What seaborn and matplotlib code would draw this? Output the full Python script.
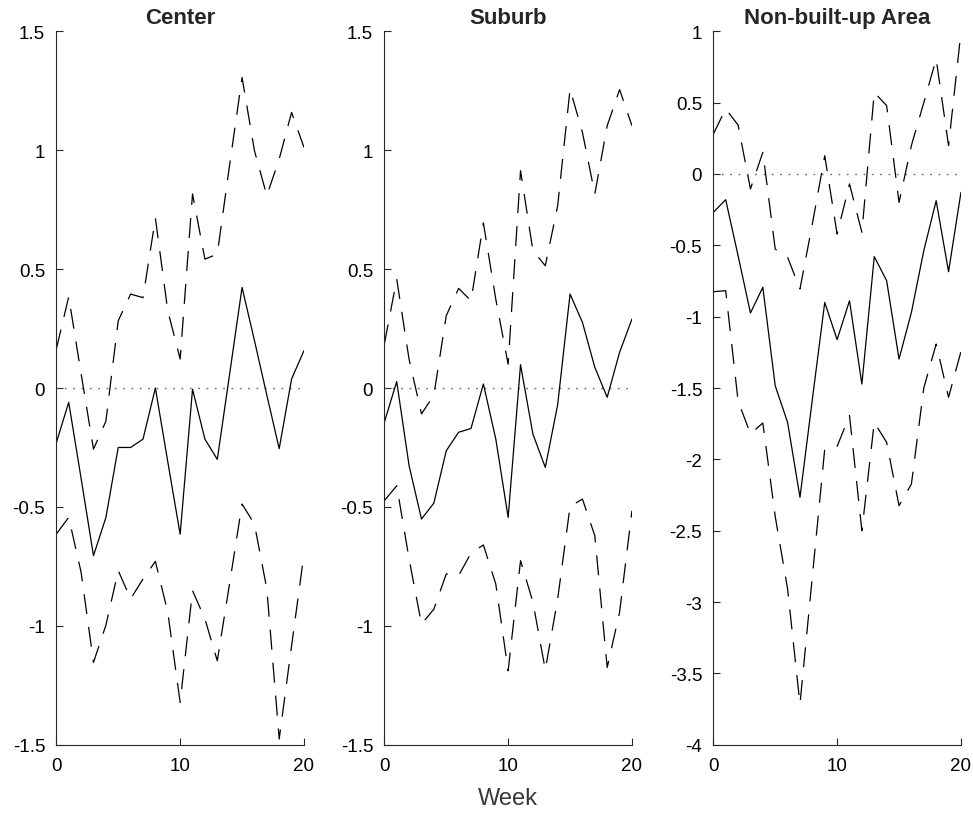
import matplotlib
matplotlib.use("Agg")
import matplotlib.pyplot as plt
import numpy as np
import pandas as pd
import seaborn as sns
from matplotlib.ticker import FormatStrFormatter, MultipleLocator

weeks = list(range(21))

center_est = [-0.23, -0.06, -0.38, -0.705, -0.545, -0.25, -0.25, -0.215, 0.0, -0.31,
              -0.615, -0.005, -0.215, -0.30, 0.06, 0.423, 0.20, -0.03, -0.255, 0.038, 0.157]
center_upper = [0.164, 0.384, 0.06, -0.257, -0.14, 0.283, 0.395, 0.38, 0.714, 0.325,
                0.122, 0.816, 0.542, 0.563, 0.94, 1.306, 0.998, 0.809, 0.963, 1.159, 1.012]
center_lower = [-0.614, -0.544, -0.775, -1.154, -0.998, -0.768, -0.887, -0.803, -0.729, -0.943,
                -1.322, -0.852, -0.971, -1.147, -0.82, -0.488, -0.572, -0.845, -1.476, -1.084, -0.698]

suburb_est = [-0.144, 0.027, -0.327, -0.551, -0.484, -0.264, -0.186, -0.170, 0.017, -0.214,
              -0.544, 0.098, -0.194, -0.334, -0.07, 0.395, 0.276, 0.087, -0.039, 0.15, 0.29]
suburb_upper = [0.185, 0.458, 0.12, -0.109, -0.03, 0.304, 0.419, 0.367, 0.694, 0.374,
                0.10, 0.914, 0.578, 0.514, 0.767, 1.257, 1.075, 0.816, 1.103, 1.255, 1.103]
suburb_lower = [-0.474, -0.411, -0.719, -0.993, -0.93, -0.782, -0.789, -0.694, -0.66, -0.824,
                -1.189, -0.726, -0.90, -1.185, -0.887, -0.498, -0.467, -0.621, -1.175, -0.943, -0.516]

nonbuilt_est = [-0.269, -0.18, -0.572, -0.974, -0.794, -1.484, -1.741, -2.266, -1.58, -0.9,
                -1.161, -0.888, -1.472, -0.579, -0.748, -1.297, -0.97, -0.537, -0.187, -0.685, -0.129]
nonbuilt_upper = [0.28, 0.456, 0.343, -0.105, 0.152, -0.526, -0.584, -0.806, -0.35, 0.128,
                  -0.421, -0.07, -0.409, 0.572, 0.479, -0.199, 0.2, 0.5, 0.806, 0.199, 0.993]
nonbuilt_lower = [-0.825, -0.818, -1.59, -1.822, -1.745, -2.4, -2.909, -3.715, -2.82, -1.928,
                  -1.909, -1.694, -2.50, -1.741, -1.881, -2.325, -2.173, -1.5, -1.192, -1.565, -1.245]

titles = ["Center", "Suburb", "Non-built-up Area"]
estimates = [center_est, suburb_est, nonbuilt_est]
uppers = [center_upper, suburb_upper, nonbuilt_upper]
lowers = [center_lower, suburb_lower, nonbuilt_lower]
ylims = [(-1.5, 1.5), (-1.5, 1.5), (-4, 1)]

sns.set_style("ticks")
plt.rcParams["font.family"] = ["Liberation Sans", "DejaVu Sans"]
plt.rcParams["axes.unicode_minus"] = False

ink = "#262626"
fig = plt.figure(figsize=(9.73, 8.2), dpi=100)
lefts = [0.0579, 0.3950, 0.7331]
width = 0.2545
bottom, height = 0.0906, 0.8700

lw = 0.9
dash = (0, (14.4 / lw, 9.4 / lw))

for i in range(3):
    ax = fig.add_axes([lefts[i], bottom, width, height])
    df = pd.DataFrame({"week": weeks, "est": estimates[i],
                       "upper": uppers[i], "lower": lowers[i]})
    ax.axhline(0, color="#707070", lw=1.0, linestyle=(0, (1.3, 4.7)), zorder=1)
    sns.lineplot(data=df, x="week", y="upper", ax=ax, color="black", lw=lw,
                 linestyle=dash, errorbar=None)
    sns.lineplot(data=df, x="week", y="est", ax=ax, color="black", lw=lw,
                 errorbar=None)
    sns.lineplot(data=df, x="week", y="lower", ax=ax, color="black", lw=lw,
                 linestyle=dash, errorbar=None)
    ax.set_xlim(0, 20)
    ax.set_ylim(*ylims[i])
    ax.xaxis.set_major_locator(MultipleLocator(10))
    ax.yaxis.set_major_locator(MultipleLocator(0.5))
    ax.yaxis.set_major_formatter(FormatStrFormatter("%g"))
    ax.xaxis.set_major_formatter(FormatStrFormatter("%g"))
    ax.tick_params(direction="in", length=5, width=0.8, color=ink,
                   labelsize=13.5, labelcolor="black")
    ax.tick_params(axis="y", pad=8)
    ax.tick_params(axis="x", pad=9)
    for side in ("top", "right"):
        ax.spines[side].set_visible(False)
    for side in ("left", "bottom"):
        ax.spines[side].set_color(ink)
        ax.spines[side].set_linewidth(0.8)
    ax.set_title(titles[i], fontsize=16, fontweight="bold", pad=6)
    ax.set_ylabel("")
    ax.set_xlabel("Week" if i == 1 else "", fontsize=17, color="#383838", labelpad=9)

fig.savefig("out.png", dpi=100)
